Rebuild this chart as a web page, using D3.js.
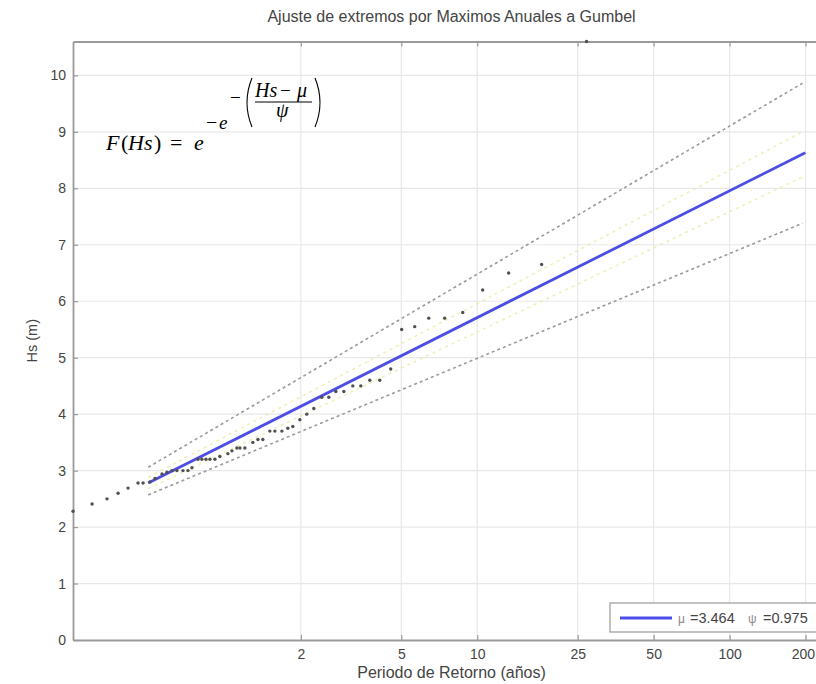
<!DOCTYPE html>
<html>
<head>
<meta charset="utf-8">
<script src="https://cdn.jsdelivr.net/npm/d3@7/dist/d3.min.js"></script>
<style>
  html, body { margin: 0; padding: 0; background: #fff; }
  svg { display: block; }
</style>
</head>
<body>
<svg id="chart" width="816" height="684"></svg>
<script>
// ---------------- data ----------------
const titleText = "Ajuste de extremos por Maximos Anuales a Gumbel";
const xLabelText = "Periodo de Retorno (años)";
const yLabelText = "Hs (m)";
const returnPeriods = [2, 5, 10, 25, 50, 100, 200];
const yTickValues = [0, 1, 2, 3, 4, 5, 6, 7, 8, 9, 10];
const muValue = "3.464";
const psiValue = "0.975";

// observed annual maxima: reduced-variate position and Hs (m)
const obsU = [-1.386, -1.212, -1.076, -0.975, -0.884, -0.793, -0.747, -0.684, -0.638, -0.574,
              -0.529, -0.483, -0.438, -0.383, -0.337, -0.301, -0.246, -0.210, -0.173, -0.137,
              -0.091, -0.046, 0.027, 0.064, 0.109, 0.137, 0.182, 0.255, 0.301, 0.346,
              0.410, 0.456, 0.520, 0.574, 0.620, 0.684, 0.747, 0.811, 0.884, 0.948,
              1.012, 1.085, 1.167, 1.240, 1.322, 1.413, 1.513, 1.613, 1.732, 1.860,
              2.005, 2.170, 2.352, 2.589, 2.890, 3.300];
const obsHs = [2.28, 2.41, 2.50, 2.60, 2.69, 2.78, 2.78, 2.80, 2.86, 2.94,
               2.97, 3.00, 3.00, 3.00, 3.00, 3.05, 3.20, 3.20, 3.20, 3.20,
               3.20, 3.25, 3.30, 3.35, 3.40, 3.40, 3.40, 3.50, 3.55, 3.55,
               3.70, 3.70, 3.70, 3.75, 3.78, 3.90, 4.00, 4.10, 4.30, 4.30,
               4.40, 4.40, 4.50, 4.50, 4.60, 4.60, 4.80, 5.50, 5.55, 5.70,
               5.70, 5.80, 6.20, 6.50, 6.65, 10.60];

// fitted Gumbel line
const fitU = [-0.70, 5.296];
const fitHs = [2.78, 8.63];
// outer confidence band (grey dashed)
const bandU = [-0.70, 5.27];
const bandUpper = [3.06, 9.86];
const bandLower = [2.57, 7.38];
// inner band (faint yellow dashed)
const innerUpper = [2.88, 9.00];
const innerLower = [2.68, 8.20];

// ---------------- layout ----------------
const svg = d3.select("#chart");
const mLeft = 73, mRight = 830, mTop = 41.5, mBottom = 640;
const x = d3.scaleLinear().domain([Math.log(0.25), Math.log(250)]).range([mLeft, mRight]);
const y = d3.scaleLinear().domain([0, 10.6]).range([mBottom, mTop]);

const axisColor = "#9a9a9a";
const gridColor = "#e8e8e8";
const textColor = "#444";
const sans = "Liberation Sans, Arial, Helvetica, sans-serif";
const serif = "Liberation Serif, 'Times New Roman', Times, serif";

svg.append("rect").attr("width", 816).attr("height", 684).attr("fill", "#fff");

// grid
const grid = svg.append("g");
grid.selectAll("line.gx").data(returnPeriods).enter().append("line")
  .attr("x1", d => x(Math.log(d))).attr("x2", d => x(Math.log(d)))
  .attr("y1", mTop).attr("y2", mBottom)
  .attr("stroke", gridColor).attr("stroke-width", 1.2);
grid.selectAll("line.gy").data(yTickValues.filter(v => v > 0)).enter().append("line")
  .attr("x1", mLeft).attr("x2", mRight)
  .attr("y1", d => y(d)).attr("y2", d => y(d))
  .attr("stroke", gridColor).attr("stroke-width", 1.2);

// axes via d3 axis generators
const xAxisBottom = d3.axisBottom(x)
  .tickValues(returnPeriods.map(t => Math.log(t)))
  .tickFormat((d, i) => String(returnPeriods[i]))
  .tickSizeInner(-5).tickSizeOuter(0).tickPadding(9);
const gxb = svg.append("g").attr("transform", `translate(0,${mBottom})`).call(xAxisBottom);

const xAxisTop = d3.axisTop(x)
  .tickValues(returnPeriods.map(t => Math.log(t)))
  .tickFormat("")
  .tickSizeInner(-5).tickSizeOuter(0);
const gxt = svg.append("g").attr("transform", `translate(0,${mTop})`).call(xAxisTop);

const yAxis = d3.axisLeft(y)
  .tickValues(yTickValues)
  .tickFormat(d3.format("d"))
  .tickSizeInner(-5).tickSizeOuter(0).tickPadding(7);
const gy = svg.append("g").attr("transform", `translate(${mLeft},0)`).call(yAxis);

[gxb, gxt, gy].forEach(g => {
  g.select(".domain").attr("stroke", axisColor).attr("stroke-width", 1.8);
  g.selectAll(".tick line").attr("stroke", axisColor).attr("stroke-width", 1.2);
  g.selectAll(".tick text").attr("fill", textColor)
    .attr("font-family", sans).attr("font-size", 14);
});
// keep the last (right-edge) tick label inside the picture
gxb.selectAll(".tick text").filter((d, i) => i === returnPeriods.length - 1)
  .attr("text-anchor", "end").attr("dx", 9);

// confidence bands
const line = d3.line().x(d => x(d[0])).y(d => y(d[1]));
svg.append("path").datum(d3.zip(bandU, innerUpper)).attr("d", line)
  .attr("fill", "none").attr("stroke", "#e8e890").attr("stroke-width", 1.5)
  .attr("stroke-dasharray", "3,4").attr("opacity", 0.7);
svg.append("path").datum(d3.zip(bandU, innerLower)).attr("d", line)
  .attr("fill", "none").attr("stroke", "#e8e890").attr("stroke-width", 1.5)
  .attr("stroke-dasharray", "3,4").attr("opacity", 0.7);
svg.append("path").datum(d3.zip(bandU, bandUpper)).attr("d", line)
  .attr("fill", "none").attr("stroke", "#9a9a9a").attr("stroke-width", 1.6)
  .attr("stroke-dasharray", "3,3");
svg.append("path").datum(d3.zip(bandU, bandLower)).attr("d", line)
  .attr("fill", "none").attr("stroke", "#9a9a9a").attr("stroke-width", 1.6)
  .attr("stroke-dasharray", "3,3");

// fitted line
const blue = "#4d4de6";
svg.append("path").datum(d3.zip(fitU, fitHs)).attr("d", line)
  .attr("fill", "none").attr("stroke", blue).attr("stroke-width", 2.8);

// observed points
svg.append("g").selectAll("circle").data(d3.zip(obsU, obsHs)).enter().append("circle")
  .attr("cx", d => x(d[0])).attr("cy", d => y(d[1])).attr("r", 1.7)
  .attr("fill", "#505050");

// title and axis labels
svg.append("text").attr("x", (mLeft + mRight) / 2).attr("y", 22)
  .attr("text-anchor", "middle").attr("font-family", sans).attr("font-size", 16)
  .attr("fill", textColor).text(titleText);
svg.append("text").attr("x", (mLeft + mRight) / 2).attr("y", 678)
  .attr("text-anchor", "middle").attr("font-family", sans).attr("font-size", 16)
  .attr("fill", textColor).text(xLabelText);
svg.append("text").attr("transform", `translate(37,${(mTop + mBottom) / 2}) rotate(-90)`)
  .attr("text-anchor", "middle").attr("font-family", sans).attr("font-size", 14.5)
  .attr("fill", textColor).text(yLabelText);

// legend
const lg = svg.append("g");
lg.append("rect").attr("x", 610).attr("y", 603).attr("width", 230).attr("height", 29)
  .attr("fill", "#fff").attr("stroke", "#a8a8a8").attr("stroke-width", 1.4);
lg.append("line").attr("x1", 620).attr("x2", 672).attr("y1", 618).attr("y2", 618)
  .attr("stroke", blue).attr("stroke-width", 2.8);
const legendParts = [
  { t: "μ", px: 678, size: 12, fill: "#888" },
  { t: "=" + muValue, px: 690, size: 14.5, fill: textColor },
  { t: "ψ", px: 748, size: 12, fill: "#888" },
  { t: "=" + psiValue, px: 763, size: 14.5, fill: textColor }
];
lg.selectAll("text.lt").data(legendParts).enter().append("text")
  .attr("x", d => d.px).attr("y", 623).attr("font-family", sans)
  .attr("font-size", d => d.size).attr("fill", d => d.fill).text(d => d.t);

// formula F(Hs) = e^{-e^{-((Hs-mu)/psi)}}
const f = svg.append("g").attr("font-family", serif).attr("fill", "#000");
function put(txt, px, py, size, italic) {
  f.append("text").attr("x", px).attr("y", py).attr("font-size", size)
    .attr("font-style", italic ? "italic" : "normal").text(txt);
}
put("F", 106, 150, 22, true);
put("(", 121, 150, 22, false);
put("Hs", 128, 150, 22, true);
put(")", 154, 150, 22, false);
put("=", 170, 150, 22, false);
put("e", 194, 150, 22, true);
put("−", 206, 129, 20, false);
put("e", 219, 129, 19, true);
put("−", 230, 104, 19, false);
// big parentheses
f.append("path").attr("d", "M252,78 Q242,102.5 252,127").attr("fill", "none")
  .attr("stroke", "#000").attr("stroke-width", 1.1);
f.append("path").attr("d", "M315,78 Q325,102.5 315,127").attr("fill", "none")
  .attr("stroke", "#000").attr("stroke-width", 1.1);
put("Hs", 255, 97, 20, true);
put("−", 280, 97, 19, false);
put("μ", 297, 97, 20, true);
f.append("line").attr("x1", 255).attr("x2", 312).attr("y1", 102).attr("y2", 102)
  .attr("stroke", "#000").attr("stroke-width", 1);
put("ψ", 276, 117, 20, true);
</script>
</body>
</html>
